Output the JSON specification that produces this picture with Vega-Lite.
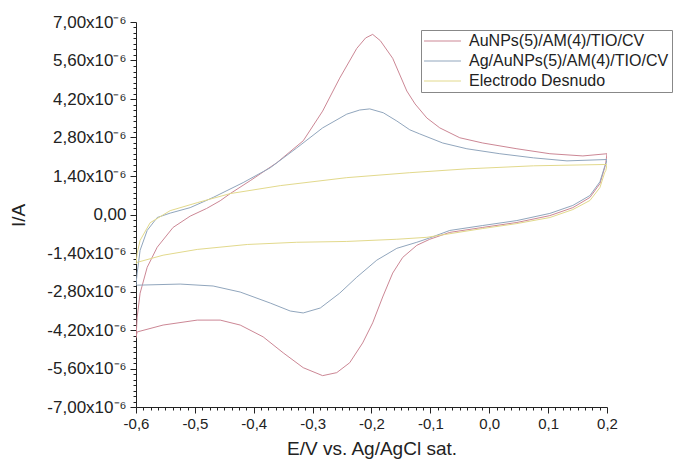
{
  "$schema": "https://vega.github.io/schema/vega-lite/v6.json",
  "autosize": {"type": "none"},
  "padding": {"left": 136, "top": 22, "right": 72, "bottom": 54},
  "width": 471,
  "height": 385,
  "background": "white",
  "config": {
    "font": "Liberation Sans",
    "view": {"stroke": null},
    "axis": {"domainColor": "#222", "tickColor": "#222", "labelColor": "#222", "titleColor": "#222", "grid": false, "labelFont": "Liberation Sans", "titleFont": "Liberation Sans", "titleFontWeight": "normal"}
  },
  "data": {"values": [
    {"s": "AuNPs(5)/AM(4)/TIO/CV", "i": 0, "E": -0.600, "I": -4.50},
    {"s": "AuNPs(5)/AM(4)/TIO/CV", "i": 1, "E": -0.598, "I": -3.73},
    {"s": "AuNPs(5)/AM(4)/TIO/CV", "i": 2, "E": -0.593, "I": -2.86},
    {"s": "AuNPs(5)/AM(4)/TIO/CV", "i": 3, "E": -0.581, "I": -1.92},
    {"s": "AuNPs(5)/AM(4)/TIO/CV", "i": 4, "E": -0.564, "I": -1.19},
    {"s": "AuNPs(5)/AM(4)/TIO/CV", "i": 5, "E": -0.537, "I": -0.47},
    {"s": "AuNPs(5)/AM(4)/TIO/CV", "i": 6, "E": -0.508, "I": -0.06},
    {"s": "AuNPs(5)/AM(4)/TIO/CV", "i": 7, "E": -0.480, "I": 0.22},
    {"s": "AuNPs(5)/AM(4)/TIO/CV", "i": 8, "E": -0.457, "I": 0.50},
    {"s": "AuNPs(5)/AM(4)/TIO/CV", "i": 9, "E": -0.440, "I": 0.76},
    {"s": "AuNPs(5)/AM(4)/TIO/CV", "i": 10, "E": -0.406, "I": 1.23},
    {"s": "AuNPs(5)/AM(4)/TIO/CV", "i": 11, "E": -0.361, "I": 1.88},
    {"s": "AuNPs(5)/AM(4)/TIO/CV", "i": 12, "E": -0.316, "I": 2.68},
    {"s": "AuNPs(5)/AM(4)/TIO/CV", "i": 13, "E": -0.283, "I": 3.76},
    {"s": "AuNPs(5)/AM(4)/TIO/CV", "i": 14, "E": -0.254, "I": 4.96},
    {"s": "AuNPs(5)/AM(4)/TIO/CV", "i": 15, "E": -0.225, "I": 6.04},
    {"s": "AuNPs(5)/AM(4)/TIO/CV", "i": 16, "E": -0.210, "I": 6.42},
    {"s": "AuNPs(5)/AM(4)/TIO/CV", "i": 17, "E": -0.198, "I": 6.55},
    {"s": "AuNPs(5)/AM(4)/TIO/CV", "i": 18, "E": -0.185, "I": 6.32},
    {"s": "AuNPs(5)/AM(4)/TIO/CV", "i": 19, "E": -0.164, "I": 5.68},
    {"s": "AuNPs(5)/AM(4)/TIO/CV", "i": 20, "E": -0.140, "I": 4.49},
    {"s": "AuNPs(5)/AM(4)/TIO/CV", "i": 21, "E": -0.126, "I": 4.02},
    {"s": "AuNPs(5)/AM(4)/TIO/CV", "i": 22, "E": -0.106, "I": 3.51},
    {"s": "AuNPs(5)/AM(4)/TIO/CV", "i": 23, "E": -0.084, "I": 3.15},
    {"s": "AuNPs(5)/AM(4)/TIO/CV", "i": 24, "E": -0.050, "I": 2.79},
    {"s": "AuNPs(5)/AM(4)/TIO/CV", "i": 25, "E": -0.011, "I": 2.60},
    {"s": "AuNPs(5)/AM(4)/TIO/CV", "i": 26, "E": 0.047, "I": 2.39},
    {"s": "AuNPs(5)/AM(4)/TIO/CV", "i": 27, "E": 0.103, "I": 2.21},
    {"s": "AuNPs(5)/AM(4)/TIO/CV", "i": 28, "E": 0.159, "I": 2.13},
    {"s": "AuNPs(5)/AM(4)/TIO/CV", "i": 29, "E": 0.200, "I": 2.21},
    {"s": "AuNPs(5)/AM(4)/TIO/CV", "i": 30, "E": 0.198, "I": 1.90},
    {"s": "AuNPs(5)/AM(4)/TIO/CV", "i": 31, "E": 0.196, "I": 1.70},
    {"s": "AuNPs(5)/AM(4)/TIO/CV", "i": 32, "E": 0.188, "I": 1.12},
    {"s": "AuNPs(5)/AM(4)/TIO/CV", "i": 33, "E": 0.171, "I": 0.62},
    {"s": "AuNPs(5)/AM(4)/TIO/CV", "i": 34, "E": 0.142, "I": 0.25},
    {"s": "AuNPs(5)/AM(4)/TIO/CV", "i": 35, "E": 0.103, "I": -0.04},
    {"s": "AuNPs(5)/AM(4)/TIO/CV", "i": 36, "E": 0.047, "I": -0.29},
    {"s": "AuNPs(5)/AM(4)/TIO/CV", "i": 37, "E": -0.011, "I": -0.47},
    {"s": "AuNPs(5)/AM(4)/TIO/CV", "i": 38, "E": -0.067, "I": -0.65},
    {"s": "AuNPs(5)/AM(4)/TIO/CV", "i": 39, "E": -0.101, "I": -0.90},
    {"s": "AuNPs(5)/AM(4)/TIO/CV", "i": 40, "E": -0.123, "I": -1.12},
    {"s": "AuNPs(5)/AM(4)/TIO/CV", "i": 41, "E": -0.147, "I": -1.56},
    {"s": "AuNPs(5)/AM(4)/TIO/CV", "i": 42, "E": -0.164, "I": -2.13},
    {"s": "AuNPs(5)/AM(4)/TIO/CV", "i": 43, "E": -0.181, "I": -3.00},
    {"s": "AuNPs(5)/AM(4)/TIO/CV", "i": 44, "E": -0.198, "I": -3.94},
    {"s": "AuNPs(5)/AM(4)/TIO/CV", "i": 45, "E": -0.215, "I": -4.67},
    {"s": "AuNPs(5)/AM(4)/TIO/CV", "i": 46, "E": -0.237, "I": -5.39},
    {"s": "AuNPs(5)/AM(4)/TIO/CV", "i": 47, "E": -0.259, "I": -5.75},
    {"s": "AuNPs(5)/AM(4)/TIO/CV", "i": 48, "E": -0.283, "I": -5.86},
    {"s": "AuNPs(5)/AM(4)/TIO/CV", "i": 49, "E": -0.316, "I": -5.57},
    {"s": "AuNPs(5)/AM(4)/TIO/CV", "i": 50, "E": -0.350, "I": -5.03},
    {"s": "AuNPs(5)/AM(4)/TIO/CV", "i": 51, "E": -0.384, "I": -4.45},
    {"s": "AuNPs(5)/AM(4)/TIO/CV", "i": 52, "E": -0.423, "I": -4.02},
    {"s": "AuNPs(5)/AM(4)/TIO/CV", "i": 53, "E": -0.457, "I": -3.84},
    {"s": "AuNPs(5)/AM(4)/TIO/CV", "i": 54, "E": -0.496, "I": -3.84},
    {"s": "AuNPs(5)/AM(4)/TIO/CV", "i": 55, "E": -0.554, "I": -4.02},
    {"s": "AuNPs(5)/AM(4)/TIO/CV", "i": 56, "E": -0.598, "I": -4.27},
    {"s": "AuNPs(5)/AM(4)/TIO/CV", "i": 57, "E": -0.600, "I": -4.45},

    {"s": "Ag/AuNPs(5)/AM(4)/TIO/CV", "i": 0, "E": -0.600, "I": -2.55},
    {"s": "Ag/AuNPs(5)/AM(4)/TIO/CV", "i": 1, "E": -0.598, "I": -2.13},
    {"s": "Ag/AuNPs(5)/AM(4)/TIO/CV", "i": 2, "E": -0.593, "I": -1.30},
    {"s": "Ag/AuNPs(5)/AM(4)/TIO/CV", "i": 3, "E": -0.581, "I": -0.58},
    {"s": "Ag/AuNPs(5)/AM(4)/TIO/CV", "i": 4, "E": -0.564, "I": -0.11},
    {"s": "Ag/AuNPs(5)/AM(4)/TIO/CV", "i": 5, "E": -0.542, "I": 0.05},
    {"s": "Ag/AuNPs(5)/AM(4)/TIO/CV", "i": 6, "E": -0.508, "I": 0.25},
    {"s": "Ag/AuNPs(5)/AM(4)/TIO/CV", "i": 7, "E": -0.469, "I": 0.62},
    {"s": "Ag/AuNPs(5)/AM(4)/TIO/CV", "i": 8, "E": -0.418, "I": 1.16},
    {"s": "Ag/AuNPs(5)/AM(4)/TIO/CV", "i": 9, "E": -0.372, "I": 1.70},
    {"s": "Ag/AuNPs(5)/AM(4)/TIO/CV", "i": 10, "E": -0.327, "I": 2.42},
    {"s": "Ag/AuNPs(5)/AM(4)/TIO/CV", "i": 11, "E": -0.283, "I": 3.15},
    {"s": "Ag/AuNPs(5)/AM(4)/TIO/CV", "i": 12, "E": -0.242, "I": 3.65},
    {"s": "Ag/AuNPs(5)/AM(4)/TIO/CV", "i": 13, "E": -0.220, "I": 3.80},
    {"s": "Ag/AuNPs(5)/AM(4)/TIO/CV", "i": 14, "E": -0.203, "I": 3.84},
    {"s": "Ag/AuNPs(5)/AM(4)/TIO/CV", "i": 15, "E": -0.180, "I": 3.70},
    {"s": "Ag/AuNPs(5)/AM(4)/TIO/CV", "i": 16, "E": -0.157, "I": 3.40},
    {"s": "Ag/AuNPs(5)/AM(4)/TIO/CV", "i": 17, "E": -0.135, "I": 3.08},
    {"s": "Ag/AuNPs(5)/AM(4)/TIO/CV", "i": 18, "E": -0.118, "I": 2.93},
    {"s": "Ag/AuNPs(5)/AM(4)/TIO/CV", "i": 19, "E": -0.079, "I": 2.60},
    {"s": "Ag/AuNPs(5)/AM(4)/TIO/CV", "i": 20, "E": -0.038, "I": 2.39},
    {"s": "Ag/AuNPs(5)/AM(4)/TIO/CV", "i": 21, "E": 0.018, "I": 2.21},
    {"s": "Ag/AuNPs(5)/AM(4)/TIO/CV", "i": 22, "E": 0.075, "I": 2.06},
    {"s": "Ag/AuNPs(5)/AM(4)/TIO/CV", "i": 23, "E": 0.132, "I": 1.95},
    {"s": "Ag/AuNPs(5)/AM(4)/TIO/CV", "i": 24, "E": 0.200, "I": 2.00},
    {"s": "Ag/AuNPs(5)/AM(4)/TIO/CV", "i": 25, "E": 0.198, "I": 1.82},
    {"s": "Ag/AuNPs(5)/AM(4)/TIO/CV", "i": 26, "E": 0.196, "I": 1.74},
    {"s": "Ag/AuNPs(5)/AM(4)/TIO/CV", "i": 27, "E": 0.188, "I": 1.19},
    {"s": "Ag/AuNPs(5)/AM(4)/TIO/CV", "i": 28, "E": 0.171, "I": 0.69},
    {"s": "Ag/AuNPs(5)/AM(4)/TIO/CV", "i": 29, "E": 0.142, "I": 0.33},
    {"s": "Ag/AuNPs(5)/AM(4)/TIO/CV", "i": 30, "E": 0.103, "I": 0.04},
    {"s": "Ag/AuNPs(5)/AM(4)/TIO/CV", "i": 31, "E": 0.047, "I": -0.22},
    {"s": "Ag/AuNPs(5)/AM(4)/TIO/CV", "i": 32, "E": -0.011, "I": -0.40},
    {"s": "Ag/AuNPs(5)/AM(4)/TIO/CV", "i": 33, "E": -0.067, "I": -0.58},
    {"s": "Ag/AuNPs(5)/AM(4)/TIO/CV", "i": 34, "E": -0.101, "I": -0.85},
    {"s": "Ag/AuNPs(5)/AM(4)/TIO/CV", "i": 35, "E": -0.123, "I": -1.01},
    {"s": "Ag/AuNPs(5)/AM(4)/TIO/CV", "i": 36, "E": -0.157, "I": -1.23},
    {"s": "Ag/AuNPs(5)/AM(4)/TIO/CV", "i": 37, "E": -0.191, "I": -1.66},
    {"s": "Ag/AuNPs(5)/AM(4)/TIO/CV", "i": 38, "E": -0.225, "I": -2.28},
    {"s": "Ag/AuNPs(5)/AM(4)/TIO/CV", "i": 39, "E": -0.254, "I": -2.86},
    {"s": "Ag/AuNPs(5)/AM(4)/TIO/CV", "i": 40, "E": -0.287, "I": -3.40},
    {"s": "Ag/AuNPs(5)/AM(4)/TIO/CV", "i": 41, "E": -0.316, "I": -3.58},
    {"s": "Ag/AuNPs(5)/AM(4)/TIO/CV", "i": 42, "E": -0.338, "I": -3.51},
    {"s": "Ag/AuNPs(5)/AM(4)/TIO/CV", "i": 43, "E": -0.372, "I": -3.22},
    {"s": "Ag/AuNPs(5)/AM(4)/TIO/CV", "i": 44, "E": -0.423, "I": -2.82},
    {"s": "Ag/AuNPs(5)/AM(4)/TIO/CV", "i": 45, "E": -0.469, "I": -2.60},
    {"s": "Ag/AuNPs(5)/AM(4)/TIO/CV", "i": 46, "E": -0.525, "I": -2.53},
    {"s": "Ag/AuNPs(5)/AM(4)/TIO/CV", "i": 47, "E": -0.598, "I": -2.57},
    {"s": "Ag/AuNPs(5)/AM(4)/TIO/CV", "i": 48, "E": -0.600, "I": -2.55},

    {"s": "Electrodo Desnudo", "i": 0, "E": -0.600, "I": -1.80},
    {"s": "Electrodo Desnudo", "i": 1, "E": -0.598, "I": -1.41},
    {"s": "Electrodo Desnudo", "i": 2, "E": -0.593, "I": -0.94},
    {"s": "Electrodo Desnudo", "i": 3, "E": -0.576, "I": -0.30},
    {"s": "Electrodo Desnudo", "i": 4, "E": -0.542, "I": 0.14},
    {"s": "Electrodo Desnudo", "i": 5, "E": -0.496, "I": 0.43},
    {"s": "Electrodo Desnudo", "i": 6, "E": -0.440, "I": 0.76},
    {"s": "Electrodo Desnudo", "i": 7, "E": -0.355, "I": 1.05},
    {"s": "Electrodo Desnudo", "i": 8, "E": -0.242, "I": 1.34},
    {"s": "Electrodo Desnudo", "i": 9, "E": -0.135, "I": 1.52},
    {"s": "Electrodo Desnudo", "i": 10, "E": -0.038, "I": 1.66},
    {"s": "Electrodo Desnudo", "i": 11, "E": 0.075, "I": 1.77},
    {"s": "Electrodo Desnudo", "i": 12, "E": 0.200, "I": 1.82},
    {"s": "Electrodo Desnudo", "i": 13, "E": 0.198, "I": 1.60},
    {"s": "Electrodo Desnudo", "i": 14, "E": 0.196, "I": 1.52},
    {"s": "Electrodo Desnudo", "i": 15, "E": 0.188, "I": 0.98},
    {"s": "Electrodo Desnudo", "i": 16, "E": 0.171, "I": 0.51},
    {"s": "Electrodo Desnudo", "i": 17, "E": 0.142, "I": 0.18},
    {"s": "Electrodo Desnudo", "i": 18, "E": 0.103, "I": -0.11},
    {"s": "Electrodo Desnudo", "i": 19, "E": 0.047, "I": -0.33},
    {"s": "Electrodo Desnudo", "i": 20, "E": -0.011, "I": -0.51},
    {"s": "Electrodo Desnudo", "i": 21, "E": -0.106, "I": -0.83},
    {"s": "Electrodo Desnudo", "i": 22, "E": -0.157, "I": -0.90},
    {"s": "Electrodo Desnudo", "i": 23, "E": -0.242, "I": -0.98},
    {"s": "Electrodo Desnudo", "i": 24, "E": -0.327, "I": -1.01},
    {"s": "Electrodo Desnudo", "i": 25, "E": -0.411, "I": -1.09},
    {"s": "Electrodo Desnudo", "i": 26, "E": -0.496, "I": -1.27},
    {"s": "Electrodo Desnudo", "i": 27, "E": -0.554, "I": -1.48},
    {"s": "Electrodo Desnudo", "i": 28, "E": -0.598, "I": -1.74},
    {"s": "Electrodo Desnudo", "i": 29, "E": -0.600, "I": -1.80}
  ]},
  "mark": {"type": "line", "strokeWidth": 1, "clip": true},
  "encoding": {
    "x": {
      "field": "E", "type": "quantitative",
      "scale": {"domain": [-0.6, 0.2], "nice": false, "zero": false},
      "axis": {
        "title": "E/V vs. Ag/AgCl sat.",
        "titleFontSize": 19,
        "titlePadding": 8,
        "labelFontSize": 15,
        "labelPadding": 3,
        "labelFlush": false,
        "labelOverlap": false,
        "values": [-0.6, -0.5875, -0.575, -0.5625, -0.55, -0.5375, -0.525, -0.5125, -0.5, -0.4875, -0.475, -0.4625, -0.45, -0.4375, -0.425, -0.4125, -0.4, -0.3875, -0.375, -0.3625, -0.35, -0.3375, -0.325, -0.3125, -0.3, -0.2875, -0.275, -0.2625, -0.25, -0.2375, -0.225, -0.2125, -0.2, -0.1875, -0.175, -0.1625, -0.15, -0.1375, -0.125, -0.1125, -0.1, -0.0875, -0.075, -0.0625, -0.05, -0.0375, -0.025, -0.0125, 0, 0.0125, 0.025, 0.0375, 0.05, 0.0625, 0.075, 0.0875, 0.1, 0.1125, 0.125, 0.1375, 0.15, 0.1625, 0.175, 0.1875, 0.2],
        "tickSize": {"condition": {"test": "abs(datum.value*10 - round(datum.value*10)) < 0.001", "value": 6}, "value": 3},
        "labelExpr": "abs(datum.value*10 - round(datum.value*10)) < 0.001 ? replace(replace(format(datum.value, '.1f'), '.', ','), '\u2212', '-') : ''"
      }
    },
    "y": {
      "field": "I", "type": "quantitative",
      "scale": {"domain": [-7, 7], "nice": false, "zero": false},
      "axis": {
        "title": "I/A",
        "titleFontSize": 19,
        "titleX": -118,
        "titleY": 193,
        "titleAlign": "center",
        "titleBaseline": "middle",
        "labelFontSize": 17,
        "labelPadding": 4,
        "labelOverlap": false,
        "labelFlush": false,
        "values": [-7, -6.8, -6.6, -6.4, -6.2, -6, -5.8, -5.6, -5.4, -5.2, -5, -4.8, -4.6, -4.4, -4.2, -4, -3.8, -3.6, -3.4, -3.2, -3, -2.8, -2.6, -2.4, -2.2, -2, -1.8, -1.6, -1.4, -1.2, -1, -0.8, -0.6, -0.4, -0.2, 0, 0.2, 0.4, 0.6, 0.8, 1, 1.2, 1.4, 1.6, 1.8, 2, 2.2, 2.4, 2.6, 2.8, 3, 3.2, 3.4, 3.6, 3.8, 4, 4.2, 4.4, 4.6, 4.8, 5, 5.2, 5.4, 5.6, 5.8, 6, 6.2, 6.4, 6.6, 6.8, 7],
        "tickSize": {"condition": {"test": "abs(datum.value/1.4 - round(datum.value/1.4)) < 0.001", "value": 6}, "value": 3},
        "labelExpr": "abs(datum.value/1.4 - round(datum.value/1.4)) < 0.001 ? (abs(datum.value) < 0.001 ? '0,00' : replace(replace(format(datum.value, '.2f'), '.', ','), '\u2212', '-') + 'x10\u207b\u2076') : ''"
      }
    },
    "color": {
      "field": "s", "type": "nominal",
      "scale": {"domain": ["AuNPs(5)/AM(4)/TIO/CV", "Ag/AuNPs(5)/AM(4)/TIO/CV", "Electrodo Desnudo"], "range": ["#cc8795", "#91a6bd", "#e2d98c"]},
      "legend": {
        "title": null,
        "orient": "none",
        "legendX": 285,
        "legendY": 8,
        "strokeColor": "#888",
        "padding": 3,
        "symbolType": "M-1.14,0H4.14",
        "symbolSize": 196,
        "symbolStrokeWidth": 1,
        "labelFontSize": 16,
        "labelColor": "#222",
        "labelLimit": 400,
        "rowPadding": 4,
        "labelOffset": 29
      }
    },
    "order": {"field": "i", "type": "quantitative"}
  }
}
